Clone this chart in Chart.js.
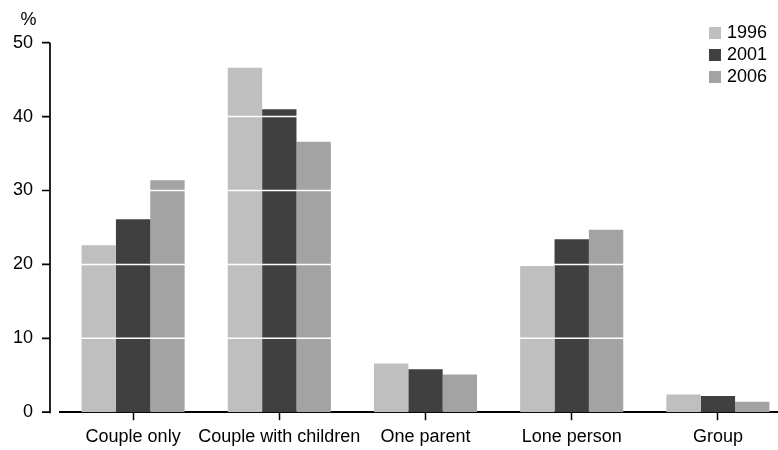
<!DOCTYPE html>
<html>
<head>
<meta charset="utf-8">
<script src="https://cdn.jsdelivr.net/npm/chart.js@4/dist/chart.umd.min.js"></script>
<style>
  html, body { margin: 0; padding: 0; background: #fff; overflow: hidden; }
  canvas { display: block; }
</style>
</head>
<body>
<canvas id="c" width="800" height="450"></canvas>
<script>
// Household types, share of households (%)
const categories = ['Couple only', 'Couple with children', 'One parent', 'Lone person', 'Group'];
const years = ['1996', '2001', '2006'];
const values1996 = [22.6, 46.6, 6.6, 19.8, 2.4];
const values2001 = [26.1, 41.0, 5.8, 23.4, 2.2];
const values2006 = [31.4, 36.6, 5.1, 24.7, 1.4];
const yTicks = [0, 10, 20, 30, 40, 50];
const unitLabel = '%';

const colours = ['#bfbfbf', '#404040', '#a3a3a3'];
const FONT = "'Liberation Sans', Arial, sans-serif";

// White reference lines laid over the bars
const whiteGrid = {
  id: 'whiteGrid',
  afterDatasetsDraw(chart) {
    const ctx = chart.ctx;
    const y = chart.scales.y;
    const { left, right } = chart.chartArea;
    ctx.save();
    ctx.strokeStyle = '#ffffff';
    ctx.lineWidth = 1.5;
    ctx.beginPath();
    yTicks.slice(1, -1).forEach(v => {
      const py = y.getPixelForValue(v);
      ctx.moveTo(left, py);
      ctx.lineTo(right, py);
    });
    ctx.stroke();
    ctx.restore();
  }
};

// Y axis line with outward ticks, category names, unit label and the key
const decorations = {
  id: 'decorations',
  afterDraw(chart) {
    const ctx = chart.ctx;
    const x = chart.scales.x;
    const y = chart.scales.y;
    const axisX = chart.chartArea.left - 10;
    ctx.save();
    ctx.strokeStyle = '#000';
    ctx.lineWidth = 1.7;
    ctx.beginPath();
    ctx.moveTo(axisX, y.getPixelForValue(0) + 1);
    ctx.lineTo(axisX, y.getPixelForValue(yTicks[yTicks.length - 1]));
    yTicks.forEach(v => {
      const py = y.getPixelForValue(v);
      ctx.moveTo(axisX - 8, py);
      ctx.lineTo(axisX, py);
    });
    ctx.stroke();

    ctx.fillStyle = '#000';
    ctx.font = '18px ' + FONT;

    // category names under the axis
    ctx.textAlign = 'center';
    ctx.textBaseline = 'alphabetic';
    const base = chart.chartArea.bottom + 30;
    categories.forEach((c, i) => {
      ctx.fillText(c, x.getPixelForValue(i), base);
    });

    ctx.textBaseline = 'middle';
    ctx.fillText(unitLabel, 28.5, 20);

    // key
    ctx.textAlign = 'left';
    chart.data.datasets.forEach((ds, i) => {
      const cy = 33 + i * 22;
      ctx.fillStyle = ds.backgroundColor;
      ctx.fillRect(709, cy - 6, 12, 12);
      ctx.fillStyle = '#000';
      ctx.fillText(ds.label, 727, cy);
    });
    ctx.restore();
  }
};

new Chart(document.getElementById('c'), {
  type: 'bar',
  data: {
    labels: categories,
    datasets: [
      { label: years[0], data: values1996, backgroundColor: colours[0] },
      { label: years[1], data: values2001, backgroundColor: colours[1] },
      { label: years[2], data: values2006, backgroundColor: colours[2] }
    ]
  },
  options: {
    responsive: false,
    animation: false,
    layout: { padding: { top: 42.7, right: 9, left: 0, bottom: 18.4 } },
    datasets: { bar: { barPercentage: 1, categoryPercentage: 0.705, borderWidth: 0 } },
    plugins: { legend: { display: false }, tooltip: { enabled: false } },
    scales: {
      x: {
        border: { display: true, color: '#000', width: 2 },
        grid: {
          offset: false,
          drawOnChartArea: false,
          drawTicks: true,
          tickLength: 8,
          tickColor: '#000',
          tickWidth: 1.5
        },
        ticks: { display: false }
      },
      y: {
        min: 0,
        max: 50,
        border: { display: false },
        afterBuildTicks(scale) { scale.ticks = yTicks.map(v => ({ value: v })); },
        grid: { display: false, drawTicks: false },
        ticks: { color: '#000', padding: 27, font: { family: FONT, size: 18 } },
        afterFit(scale) { scale.width = 60; }
      }
    }
  },
  plugins: [whiteGrid, decorations]
});
</script>
</body>
</html>
